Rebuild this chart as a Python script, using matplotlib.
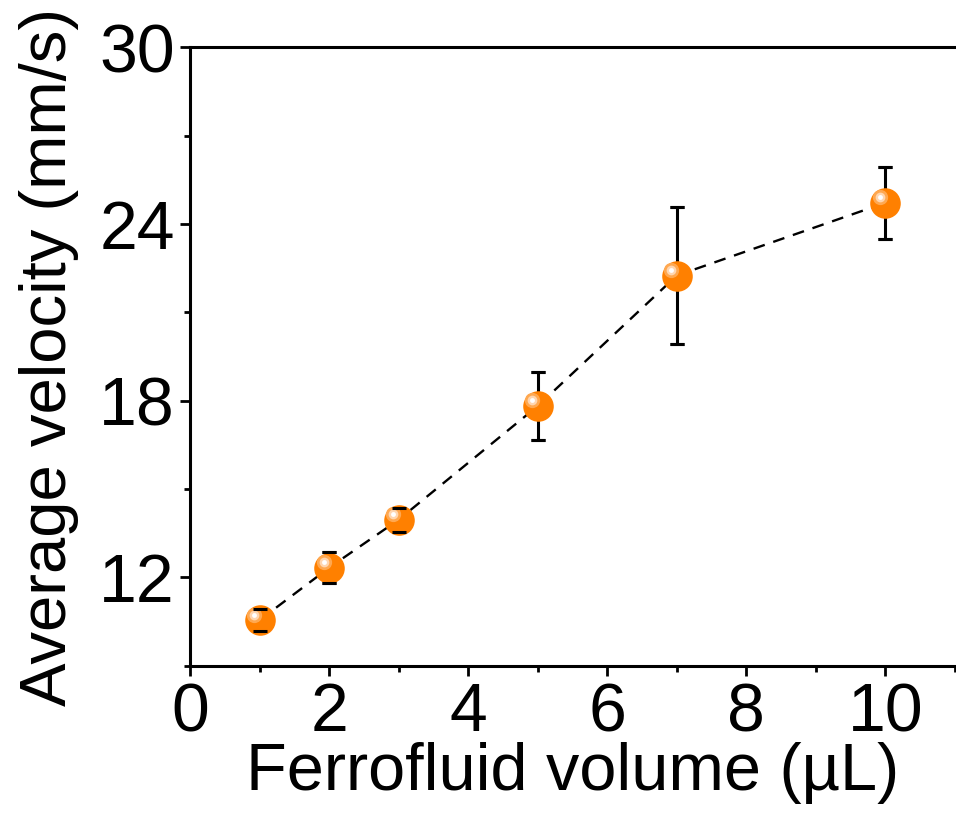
import matplotlib
matplotlib.use("Agg")
import matplotlib.pyplot as plt
from matplotlib.ticker import MultipleLocator
from matplotlib.transforms import offset_copy

# ferrofluid volume (uL) vs average velocity (mm/s)
volume = [1, 2, 3, 5, 7, 10]
velocity = [10.55, 12.33, 13.96, 17.82, 22.25, 24.72]
velocity_err = [0.38, 0.52, 0.40, 1.17, 2.33, 1.23]

plt.rcParams['font.family'] = ['Liberation Sans', 'DejaVu Sans']

fig = plt.figure(figsize=(9.56, 8.14), dpi=100)
ax = fig.add_axes([0.1987, 0.182, 0.8003, 0.760])

ax.plot(volume, velocity, color="black", linestyle=(0, (5, 3.8)), linewidth=1.7, zorder=2)
ax.errorbar(volume, velocity, yerr=velocity_err, fmt="none", ecolor="black",
            elinewidth=2.2, capsize=5, capthick=2.2, zorder=3)

# shiny ball markers: base disc plus highlight layers offset up-left
ax.plot(volume, velocity, "o", markersize=22, color="#FF8000", markeredgewidth=0, zorder=4)
hl = offset_copy(ax.transData, fig=fig, x=-4, y=4, units="points")
ax.plot(volume, velocity, "o", markersize=11, color="#FFA850", markeredgewidth=0, zorder=5, transform=hl)
ax.plot(volume, velocity, "o", markersize=7, color="#FFD6B0", markeredgewidth=0, zorder=6, transform=hl)
ax.plot(volume, velocity, "o", markersize=3.5, color="white", markeredgewidth=0, zorder=7, transform=hl)

# caps drawn again on top so the short bars stay visible
lo = [v - e for v, e in zip(velocity, velocity_err)]
hi = [v + e for v, e in zip(velocity, velocity_err)]
ax.plot(volume, lo, "_", markersize=10, markeredgewidth=2.2, color="black", zorder=8)
ax.plot(volume, hi, "_", markersize=10, markeredgewidth=2.2, color="black", zorder=8)

ax.set_xlim(0, 11)
ax.set_ylim(9, 30)
ax.xaxis.set_major_locator(MultipleLocator(2))
ax.xaxis.set_minor_locator(MultipleLocator(1))
ax.yaxis.set_minor_locator(MultipleLocator(3))
ax.set_yticks([12, 18, 24, 30])

ax.spines["right"].set_visible(False)
for s in ["left", "bottom", "top"]:
    ax.spines[s].set_linewidth(2.2)

ax.tick_params(axis="both", which="major", direction="out", length=7, width=2,
               labelsize=49, pad=4)
ax.tick_params(axis="both", which="minor", direction="out", length=4.5, width=2)
ax.tick_params(top=False, right=False, which="both")

ax.set_xlabel("Ferrofluid volume (µL)", fontsize=48, labelpad=-2)
ax.set_ylabel("Average velocity (mm/s)", fontsize=47, labelpad=14)

fig.savefig("out.png", dpi=100)
